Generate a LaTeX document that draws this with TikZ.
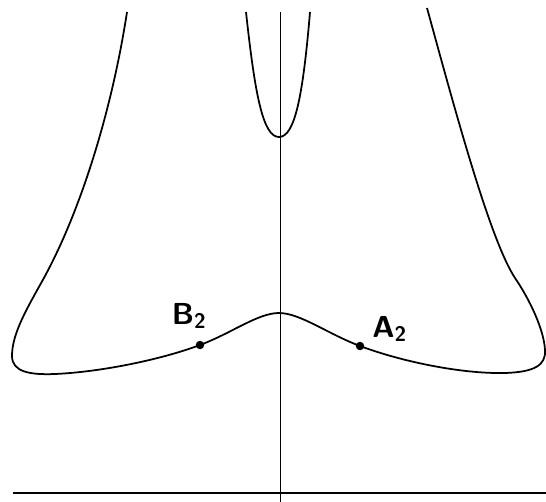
\documentclass[tikz,border=0pt]{standalone}
\usepackage{amsmath,amssymb}
\usepackage{tikz}
\usepackage{xcolor}

\tikzset{
  curve/.style={line width=1pt,line join=round},
  axisline/.style={line width=0.5pt},
  dotpt/.style={circle,fill=black,inner sep=0pt,minimum size=0.17cm},
  ptlabel/.style={font=\sffamily\bfseries\LARGE,inner sep=0pt}
}

\begin{document}
\begin{tikzpicture}[x=0.02cm,y=-0.02cm]
\useasboundingbox (0,0) rectangle (546,502);
% axes
\coordinate (vtop) at (280,12); \coordinate (vbot) at (280,502);
\coordinate (hl) at (13,493); \coordinate (hr) at (546,493);
\draw[axisline] (vtop) -- (vbot);
\draw[line width=0.8pt] (hl) -- (hr);
% points on the curve
\node[dotpt] (B2) at (200,345) {};
\node[dotpt] (A2) at (360,346) {};
\node[ptlabel,anchor=south east] (lB) at (207,329) {B$_{\textsf{\bfseries 2}}$};
\node[ptlabel,anchor=south west] (lA) at (372,342) {A$_{\textsf{\bfseries 2}}$};
% inner branch
\draw[curve] (246,12) .. controls (255,95) and (263,137) .. (279,137)
  .. controls (295,137) and (303,95) .. (310,12);
% outer branch
\draw[curve] (127,12) .. controls (112,110) and (80,215) .. (40,285)
  .. controls (25,312) and (12,335) .. (12,356)
  .. controls (12,372) and (30,375) .. (55,374)
  .. controls (100,372) and (160,360) .. (B2.center)
  .. controls (232,333) and (258,313) .. (279,313)
  .. controls (300,313) and (328,334) .. (A2.center)
  .. controls (400,361) and (460,374) .. (505,373)
  .. controls (535,372) and (546,365) .. (545,350)
  .. controls (544,330) and (530,300) .. (515,278)
  .. controls (490,240) and (455,110) .. (427,8);
\end{tikzpicture}
\end{document}
